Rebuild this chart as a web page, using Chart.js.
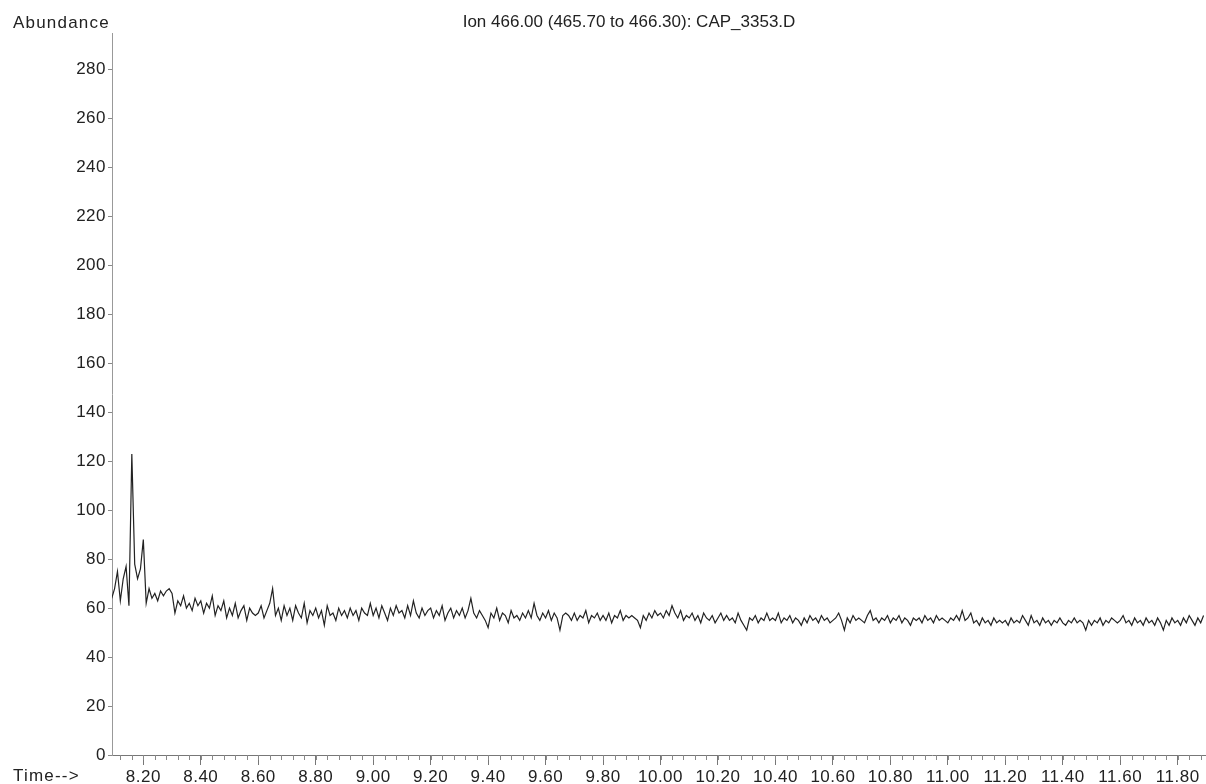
<!DOCTYPE html>
<html><head><meta charset="utf-8">
<script src="https://cdn.jsdelivr.net/npm/chart.js@4"></script>
<style>html,body{margin:0;padding:0;background:#fff;} canvas{display:block;}</style>
</head><body>
<canvas id="c" width="1206" height="784"></canvas>
<script>
const chartTitle = 'Ion 466.00 (465.70 to 466.30): CAP_3353.D';
const yAxisTitle = 'Abundance';
const xAxisTitle = 'Time-->';
const xTickLabels = ['8.20','8.40','8.60','8.80','9.00','9.20','9.40','9.60','9.80','10.00','10.20','10.40','10.60','10.80','11.00','11.20','11.40','11.60','11.80'];
const yTickLabels = ['0','20','40','60','80','100','120','140','160','180','200','220','240','260','280'];
const scanStart = 8.09;
const scanStep = 0.01;
const abundance = [
  64,
  68,75,63,72,77,61,123,78,72,76,
  88,62,68,64,66,63,67,65,67,68,
  66,58,63,61,65,60,62,59,64,61,
  63,58,62,60,65,57,61,59,63,56,
  60,57,62,56,59,61,55,60,58,57,
  58,61,56,59,62,68,57,60,55,61,
  57,60,55,61,58,56,62,54,59,57,
  60,56,59,53,61,57,58,55,60,57,
  59,56,60,57,59,55,60,58,57,62,
  57,60,56,61,58,55,60,57,61,58,
  59,56,61,57,63,58,56,60,57,59,
  60,56,59,57,61,55,58,60,56,59,
  57,60,56,59,64,58,56,59,57,55,
  52,58,56,60,55,58,57,54,59,56,
  57,55,58,56,59,56,62,57,55,58,
  56,59,55,58,56,51,57,58,57,55,
  58,55,57,56,59,54,57,56,58,55,
  57,55,58,54,57,56,59,55,57,56,
  57,56,55,52,57,55,58,56,59,57,
  58,56,59,57,61,58,56,59,55,57,
  56,58,55,57,54,58,56,55,57,54,
  56,58,55,57,55,56,54,58,55,53,
  51,56,55,57,54,56,55,58,55,56,
  55,58,54,56,55,57,54,56,55,53,
  56,54,57,55,56,54,57,55,56,54,
  55,56,58,55,51,56,54,57,55,56,
  55,54,57,59,55,56,54,56,55,57,
  54,56,55,57,54,56,55,53,56,55,
  56,54,57,55,56,54,57,55,56,55,
  54,56,55,57,55,59,55,56,58,54,
  55,53,56,54,55,53,56,54,55,54,
  55,53,56,54,55,54,57,55,53,57,
  54,55,53,56,54,55,53,55,54,56,
  54,53,55,54,56,54,55,54,51,55,
  53,55,54,56,53,55,54,56,55,54,
  55,57,54,55,53,56,54,55,53,56,
  54,55,53,56,54,51,55,53,56,54,
  55,53,56,54,57,55,53,56,54,57
];
const times = abundance.map((_, i) => +(scanStart + i * scanStep).toFixed(2));

const FONT = '"Liberation Sans", Arial, sans-serif';

const decor = {
  id: 'decor',
  beforeLayout(chart) { chart.ctx.letterSpacing = '0.5px'; },
  beforeDraw(chart) { chart.ctx.letterSpacing = '0.5px'; },
  afterDraw(chart) {
    const ctx = chart.ctx, xs = chart.scales.x;
    const y0 = chart.chartArea.bottom;
    ctx.save();
    ctx.strokeStyle = '#888';
    ctx.lineWidth = 1;
    ctx.beginPath();
    for (let k = 203; k <= 297; k++) {
      const px = Math.round(xs.getPixelForValue(k * 0.04)) + 0.5;
      ctx.moveTo(px, y0);
      ctx.lineTo(px, y0 + 5);
    }
    ctx.stroke();
    ctx.fillStyle = '#222';
    ctx.font = '17px ' + FONT;
    ctx.textBaseline = 'middle';
    ctx.letterSpacing = '0px';
    ctx.textAlign = 'center';
    ctx.fillText(chartTitle, 629, 22);
    ctx.letterSpacing = '1.2px';
    ctx.textAlign = 'left';
    ctx.fillText(yAxisTitle, 13, 23);
    ctx.fillText(xAxisTitle, 13, 776);
    ctx.restore();
  }
};

new Chart(document.getElementById('c'), {
  type: 'line',
  data: {
    datasets: [{
      data: times.map((t, i) => ({ x: t, y: abundance[i] })),
      borderColor: '#222',
      borderWidth: 1.2,
      pointRadius: 0,
      tension: 0,
      fill: false
    }]
  },
  options: {
    responsive: false,
    animation: false,
    layout: { padding: { top: 33, right: 1, left: 0, bottom: 0 } },
    plugins: { legend: { display: false }, tooltip: { enabled: false }, title: { display: false } },
    scales: {
      x: {
        type: 'linear', min: 8.091, max: 11.895,
        afterBuildTicks: s => { s.ticks = xTickLabels.map(l => ({ value: parseFloat(l) })); },
        afterFit: s => { s.height = 29; },
        ticks: { autoSkip: false, maxRotation: 0, minRotation: 0, padding: 2, color: '#222',
          font: { family: FONT, size: 17 }, callback: (v, i) => xTickLabels[i] },
        grid: { drawOnChartArea: false, tickLength: 10, tickColor: '#777' },
        border: { color: '#777' }
      },
      y: {
        min: 0, max: 295,
        afterBuildTicks: s => { s.ticks = yTickLabels.map(l => ({ value: +l })); },
        afterFit: s => { s.width = 112; },
        ticks: { padding: 2, color: '#222', font: { family: FONT, size: 17 }, callback: (v, i) => yTickLabels[i] },
        grid: { drawOnChartArea: false, tickLength: 4, tickColor: '#888' },
        border: { color: '#999', dash: [3, 2] }
      }
    }
  },
  plugins: [decor]
});
</script>
</body></html>
